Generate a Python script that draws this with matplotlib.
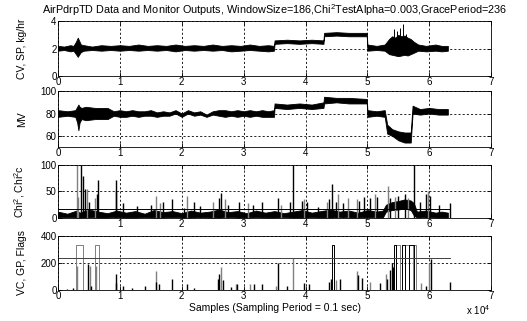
import matplotlib
matplotlib.use("Agg")
import matplotlib.pyplot as plt

plt.rcParams['font.family'] = ['Liberation Sans', 'DejaVu Sans']
plt.rcParams['mathtext.fontset'] = 'custom'
plt.rcParams['mathtext.rm'] = 'Liberation Sans'

## Datos (x en muestras)
titulo = "AirPdrpTD Data and Monitor Outputs, WindowSize=186,Chi$^2$TestAlpha=0.003,GracePeriod=236"
xtick_vals = [0, 10000, 20000, 30000, 40000, 50000, 60000, 70000]
xtick_labels = ['0', '1', '2', '3', '4', '5', '6', '7']

# CV: envolvente de la banda de ruido
cv_x = [0, 1000, 2000, 2500, 2900, 3200, 3400, 3700, 4200, 5500, 7000, 8500, 10000, 11500, 13000,
        14500, 16000, 17500, 19000, 20500, 22000, 23500, 25000, 26500, 28000, 29500, 31000, 32500,
        34000, 34900, 35000, 37000, 39000, 41000, 42900, 43000, 45000, 47000, 49900, 50000, 51500,
        52800, 53500, 54000, 54500, 55000, 55500, 56000, 56500, 57000, 57500, 58200, 59500, 61000,
        62000, 63000]
cv_hi = [2.2, 2.15, 2.25, 2.2, 2.5, 2.8, 2.6, 2.3, 2.25, 2.15, 2.25, 2.2, 2.25, 2.2, 2.3,
         2.2, 2.25, 2.2, 2.3, 2.2, 2.25, 2.2, 2.3, 2.2, 2.25, 2.2, 2.3, 2.2,
         2.25, 2.2, 2.6, 2.65, 2.6, 2.65, 2.6, 3.15, 3.2, 3.15, 3.15, 2.3, 2.2,
         2.3, 2.7, 2.9, 2.8, 3.0, 2.9, 2.95, 2.8, 2.7, 2.5, 2.3, 2.2, 2.3,
         2.2, 2.2]
cv_lo = [1.85, 1.9, 1.8, 1.85, 1.6, 1.4, 1.55, 1.75, 1.85, 1.9, 1.85, 1.9, 1.85, 1.9, 1.85,
         1.9, 1.85, 1.9, 1.8, 1.9, 1.85, 1.9, 1.85, 1.9, 1.8, 1.85, 1.9, 1.85,
         1.8, 1.85, 2.35, 2.4, 2.35, 2.4, 2.35, 2.9, 2.95, 2.9, 2.9, 1.85, 1.9,
         1.85, 1.6, 1.55, 1.5, 1.45, 1.5, 1.55, 1.5, 1.6, 1.7, 1.85, 1.8, 1.85,
         1.8, 1.85]
cv_spk_x = [54300, 54800, 55300, 55700, 56200]
cv_spk_y = [3.4, 3.3, 3.5, 3.8, 3.1]

# MV
mv_x = [0, 1500, 2800, 3100, 3300, 3500, 3800, 4500, 6000, 8000, 9000, 10000, 11000, 12000, 13000,
        14000, 15000, 16000, 17000, 18000, 19000, 20000, 21000, 22000, 23000, 24000, 25000, 26000,
        27000, 28000, 29000, 30000, 31000, 32000, 33000, 34000, 34900, 35000, 37000, 39000, 41000,
        42900, 43000, 45000, 47000, 49900, 50000, 51500, 52800, 53200, 54000, 55000, 56000, 56800,
        57000, 57300, 58500, 60000, 61500, 63000]
mv_hi = [83, 82, 83, 86, 88, 86, 85, 86, 85, 85, 82, 83, 82, 83, 82,
         82, 83, 81, 82, 81, 83, 80, 83, 81, 82, 79, 82, 83,
         83, 82, 83, 82, 83, 82, 83, 82, 83, 89, 88, 89, 88,
         90, 95, 94, 94, 93, 83, 82, 83, 70, 66, 64, 63, 63,
         63, 87, 84, 85, 84, 84]
mv_lo = [77, 78, 77, 72, 65, 72, 75, 74, 75, 75, 78, 77, 77, 78, 77,
         78, 78, 77, 78, 78, 80, 77, 80, 78, 79, 77, 79, 78,
         77, 78, 77, 78, 77, 78, 77, 77, 77, 85, 84, 85, 84,
         85, 89, 90, 89, 89, 77, 78, 77, 62, 60, 56, 54, 54,
         54, 80, 79, 80, 79, 79]

# Chi2 / Chi2c
chi_x = [0, 1500, 3000, 3500, 5000, 6500, 8000, 9500, 11000, 12500, 14000, 15500, 17000, 18500,
         20000, 21500, 23000, 24500, 26000, 27500, 29000, 30500, 32000, 33500, 35000, 36500, 38000,
         39500, 41000, 42500, 44000, 45500, 47000, 48500, 50000, 51500, 52500, 53000, 54000, 55000,
         56000, 57000, 57500, 58000, 59500, 61000, 62000, 63000]
chi_hi = [12, 8, 14, 10, 16, 12, 9, 14, 10, 13, 8, 15, 11, 13,
          9, 14, 10, 12, 16, 11, 13, 9, 14, 10, 13, 9, 12,
          15, 10, 13, 16, 12, 14, 10, 15, 12, 14, 25, 30, 32,
          35, 33, 28, 12, 14, 10, 12, 10]
chi_lo = [1, 2, 1, 1, 2, 1, 1, 2, 1, 1, 2, 1, 1, 2,
          1, 1, 2, 1, 1, 2, 1, 1, 2, 1, 1, 2, 1,
          1, 2, 1, 1, 2, 1, 1, 2, 1, 1, 12, 15, 16,
          18, 15, 5, 1, 2, 1, 1, 1]
chi_umbral = 16
chi_negro_x = [3700, 4000, 4300, 5000, 6300, 6500, 9300, 9400, 10500, 12800, 15000, 17000, 18400,
               20300, 22000, 23000, 26000, 26300, 27500, 29200, 31500, 33000, 35500, 37500, 37900,
               39500, 40300, 42000, 43800, 44200, 45000, 46000, 48600, 49400, 50500, 51500, 53700,
               55000, 56000, 57500, 58500, 59500, 60100, 61500, 63300]
chi_negro_y = [100, 80, 55, 30, 45, 72, 50, 72, 28, 22, 25, 30, 35,
               18, 30, 22, 38, 47, 25, 30, 25, 30, 38, 30, 100,
               32, 30, 20, 35, 65, 30, 28, 32, 40, 38, 40, 38,
               42, 45, 100, 30, 45, 42, 25, 28]
chi_gris_x = [3000, 3300, 4700, 6000, 15800, 16500, 20900, 25000, 27000, 30700, 36000, 39800,
              43500, 45300, 46800, 48400, 51200, 53300, 54500, 56500, 59800]
chi_gris_y = [100, 40, 55, 38, 41, 28, 41, 30, 35, 28, 25, 35,
              30, 45, 38, 36, 45, 60, 40, 38, 50]

# VC, GP, Flags
vc_umbral = 235
flag_alto = 333
flag_gris_on = [2900, 6000, 54700, 56000, 57300]
flag_gris_off = [4000, 6700, 55300, 56800, 57800]
flag_negro_on = [44300, 54300, 55600, 56800]
flag_negro_off = [44600, 54700, 56000, 57500]
vc_negro_x = [1500, 2500, 4900, 5300, 9300, 9400, 10500, 12000, 14000, 15800, 16400, 18400, 20900,
              22000, 25800, 26000, 26600, 28000, 29000, 31700, 33000, 35600, 37000, 39800, 40500,
              43800, 44100, 45500, 48500, 49200, 52000, 53200, 53600, 54000, 54200, 59500, 60300, 63300]
vc_negro_y = [10, 12, 193, 30, 50, 118, 30, 15, 30, 60, 40, 80, 40,
              15, 80, 120, 70, 20, 45, 40, 45, 198, 30, 50, 40,
              60, 80, 80, 110, 85, 50, 80, 150, 200, 170, 30, 230, 60]
vc_gris_x = [3100, 5200, 6200, 15800, 26300, 28700, 31000, 35200, 37900, 45000, 48400, 50400,
             53000, 58700, 60000]
vc_gris_y = [180, 180, 180, 143, 168, 40, 40, 30, 235, 70, 140, 60, 120, 50, 200]

gris = '#808080'
lw = 0.7

fig = plt.figure(figsize=(5.27, 3.21), dpi=100)
ax1 = fig.add_axes([0.110, 0.763, 0.822, 0.171])
ax2 = fig.add_axes([0.110, 0.542, 0.822, 0.174])
ax3 = fig.add_axes([0.110, 0.321, 0.822, 0.165])
ax4 = fig.add_axes([0.110, 0.097, 0.822, 0.168])

# panel 1
ax1.fill_between(cv_x, cv_lo, cv_hi, color='k', lw=0.6)
ax1.vlines(cv_spk_x, 2.0, cv_spk_y, color='k', lw=lw)
ax1.set_ylim(0, 4)
ax1.set_yticks([0, 2, 4])
ax1.set_ylabel("CV, SP, kg/hr")
ax1.set_title(titulo, fontsize=7.8, pad=5)

# panel 2
ax2.fill_between(mv_x, mv_lo, mv_hi, color='k', lw=0.6)
ax2.set_ylim(50, 100)
ax2.set_yticks([60, 80, 100])
ax2.set_ylabel("MV")

# panel 3
ax3.fill_between(chi_x, chi_lo, chi_hi, color='k', lw=0.6)
ax3.vlines(chi_gris_x, 0, chi_gris_y, color=gris, lw=1.0)
ax3.vlines(chi_negro_x, 0, chi_negro_y, color='k', lw=1.0)
ax3.plot([0, 63300], [chi_umbral, chi_umbral], color='k', lw=lw)
ax3.set_ylim(0, 100)
ax3.set_yticks([0, 50, 100])
ax3.set_ylabel("Chi$^2$, Chi$^2$c")

# panel 4
for on, off in zip(flag_gris_on, flag_gris_off):
    ax4.plot([on, on, off, off], [0, flag_alto, flag_alto, 0], color=gris, lw=lw)
for on, off in zip(flag_negro_on, flag_negro_off):
    ax4.plot([on, on, off, off], [0, flag_alto, flag_alto, 0], color='k', lw=lw)
ax4.vlines(vc_gris_x, 0, vc_gris_y, color=gris, lw=1.0)
ax4.vlines(vc_negro_x, 0, vc_negro_y, color='k', lw=1.0)
ax4.plot([0, 63300], [vc_umbral, vc_umbral], color='#404040', lw=lw)
ax4.set_ylim(0, 400)
ax4.set_yticks([0, 200, 400])
ax4.set_ylabel("VC, GP, Flags")
ax4.set_xlabel("Samples (Sampling Period = 0.1 sec)", fontsize=7.5, labelpad=1)
fig.text(0.885, 0.018, "x 10$^4$", fontsize=7)

for ax in [ax1, ax2, ax3, ax4]:
    ax.set_xlim(0, 70000)
    ax.set_xticks(xtick_vals)
    ax.set_xticklabels(xtick_labels)
    ax.grid(True, color='k', ls=(0, (2.5, 2.5)), lw=0.6)
    ax.set_axisbelow(True)
    ax.tick_params(direction='in', length=3, width=0.6, labelsize=7, pad=1,
                   top=True, right=True)
    ax.yaxis.label.set_size(7.5)
    ax.yaxis.set_label_coords(-0.072, 0.5)
    for s in ax.spines.values():
        s.set_linewidth(0.6)

labels3 = list(xtick_labels)
labels3[0] = ''
ax3.set_xticklabels(labels3)

fig.savefig("out.png", dpi=100)
